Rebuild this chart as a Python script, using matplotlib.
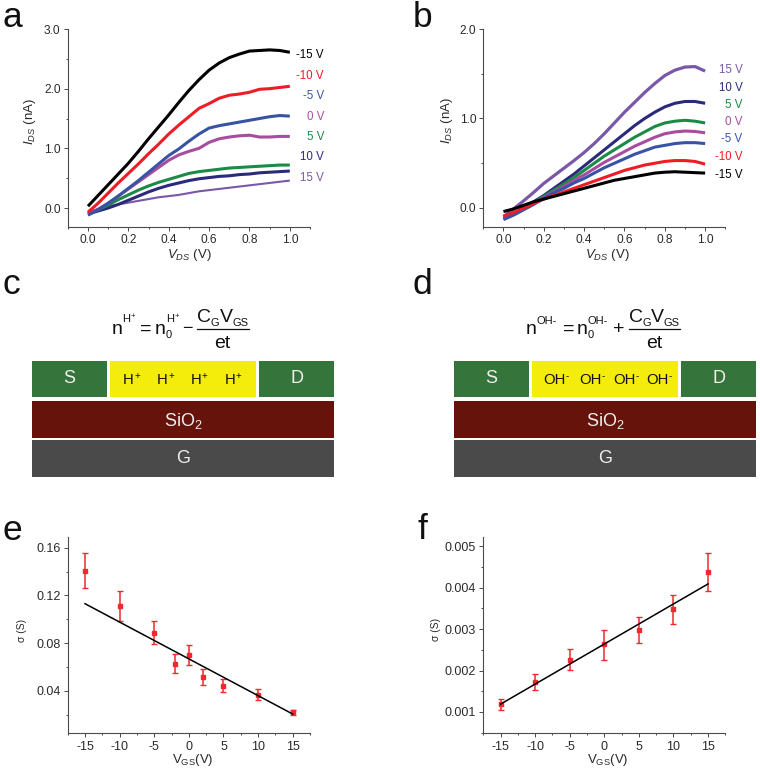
import matplotlib
matplotlib.use('Agg')
import matplotlib.pyplot as plt
from matplotlib.patches import Rectangle
from matplotlib.ticker import MultipleLocator, FormatStrFormatter

plt.rcParams['font.family'] = ['Liberation Sans', 'DejaVu Sans']
plt.rcParams['mathtext.fontset'] = 'custom'
plt.rcParams['mathtext.rm'] = 'Liberation Sans'
plt.rcParams['mathtext.it'] = 'Liberation Sans:italic'
plt.rcParams['mathtext.bf'] = 'Liberation Sans:bold'
plt.rcParams['mathtext.default'] = 'regular'
plt.rcParams['axes.unicode_minus'] = False

W, H = 760, 771
DARK = '#2a2a2a'
AXIS = '#4a4a4a'

vds = [0.0, 0.05, 0.1, 0.15, 0.2, 0.25, 0.3, 0.35, 0.4, 0.45, 0.5,
       0.55, 0.6, 0.65, 0.7, 0.75, 0.8, 0.85, 0.9, 0.95, 1.0]

# panel a, gate voltage -> I_DS (nA)
a_m15 = [0.03, 0.21, 0.39, 0.57, 0.75, 0.95, 1.16, 1.36, 1.56, 1.77, 1.97, 2.15, 2.31, 2.43, 2.52, 2.58, 2.63, 2.64, 2.65, 2.64, 2.61]
a_m10 = [-0.07, 0.08, 0.25, 0.42, 0.58, 0.74, 0.91, 1.07, 1.24, 1.39, 1.53, 1.67, 1.75, 1.84, 1.89, 1.91, 1.94, 1.99, 2.0, 2.02, 2.04]
a_m5 = [-0.12, -0.03, 0.08, 0.2, 0.33, 0.46, 0.6, 0.74, 0.88, 0.99, 1.12, 1.24, 1.34, 1.38, 1.41, 1.44, 1.47, 1.5, 1.53, 1.55, 1.54]
a_0 = [-0.1, -0.02, 0.08, 0.2, 0.32, 0.44, 0.56, 0.68, 0.8, 0.89, 0.95, 1.0, 1.1, 1.16, 1.19, 1.21, 1.22, 1.19, 1.19, 1.2, 1.2]
a_5 = [-0.1, -0.03, 0.05, 0.14, 0.22, 0.3, 0.37, 0.43, 0.48, 0.53, 0.58, 0.61, 0.63, 0.65, 0.67, 0.68, 0.69, 0.7, 0.71, 0.72, 0.72]
a_10 = [-0.1, -0.05, 0.0, 0.06, 0.13, 0.2, 0.27, 0.33, 0.38, 0.42, 0.46, 0.49, 0.51, 0.53, 0.54, 0.56, 0.57, 0.59, 0.6, 0.61, 0.62]
a_15 = [-0.07, -0.02, 0.03, 0.06, 0.09, 0.12, 0.15, 0.18, 0.2, 0.22, 0.25, 0.28, 0.3, 0.32, 0.34, 0.36, 0.38, 0.4, 0.42, 0.44, 0.46]

# panel b
b_15 = [-0.1, -0.01, 0.08, 0.175, 0.275, 0.36, 0.445, 0.53, 0.62, 0.72, 0.83, 0.95, 1.07, 1.18, 1.29, 1.39, 1.48, 1.54, 1.575, 1.58, 1.53]
b_10 = [-0.12, -0.06, 0.0, 0.07, 0.14, 0.22, 0.3, 0.38, 0.47, 0.56, 0.65, 0.74, 0.83, 0.92, 1.0, 1.07, 1.13, 1.17, 1.19, 1.19, 1.17]
b_5 = [-0.12, -0.07, -0.01, 0.06, 0.13, 0.2, 0.27, 0.34, 0.42, 0.5, 0.58, 0.65, 0.72, 0.79, 0.85, 0.91, 0.95, 0.97, 0.98, 0.97, 0.95]
b_0 = [-0.12, -0.07, -0.01, 0.05, 0.12, 0.18, 0.24, 0.31, 0.37, 0.44, 0.51, 0.57, 0.63, 0.69, 0.74, 0.79, 0.83, 0.85, 0.86, 0.855, 0.84]
b_m5 = [-0.13, -0.08, -0.02, 0.04, 0.11, 0.17, 0.22, 0.28, 0.33, 0.39, 0.45, 0.5, 0.55, 0.6, 0.64, 0.68, 0.7, 0.72, 0.73, 0.73, 0.72]
b_m10 = [-0.09, -0.05, 0.0, 0.05, 0.1, 0.14, 0.18, 0.22, 0.26, 0.3, 0.34, 0.38, 0.42, 0.45, 0.48, 0.5, 0.52, 0.53, 0.53, 0.52, 0.49]
b_m15 = [-0.04, -0.01, 0.03, 0.07, 0.1, 0.13, 0.16, 0.19, 0.22, 0.25, 0.28, 0.31, 0.33, 0.35, 0.37, 0.39, 0.4, 0.405, 0.4, 0.395, 0.39]

# panel e
e_vgs = [-15, -10, -5, -2, 0, 2, 5, 10, 15]
e_sigma = [0.1407, 0.111, 0.0886, 0.0629, 0.070, 0.0516, 0.0445, 0.0369, 0.0224]
e_high = [0.1553, 0.1234, 0.0986, 0.0707, 0.0785, 0.0581, 0.0500, 0.0414, 0.0240]
e_low = [0.1262, 0.0986, 0.0791, 0.0553, 0.0620, 0.0453, 0.0389, 0.0325, 0.0198]
e_fit_x = [-15, 15]
e_fit_y = [0.1131, 0.0207]

# panel f
f_vgs = [-15, -10, -5, 0, 5, 10, 15]
f_sigma = [0.00119, 0.00172, 0.00226, 0.00263, 0.00298, 0.00349, 0.00438]
f_high = [0.00131, 0.00192, 0.00251, 0.00299, 0.00329, 0.00383, 0.00483]
f_low = [0.00105, 0.00153, 0.00202, 0.00226, 0.00267, 0.00312, 0.00392]
f_fit_x = [-15, 15]
f_fit_y = [0.00119, 0.00409]

BLACK, RED, BLUE, MAGENTA = '#000000', '#ee1c25', '#3953a4', '#a64d9f'
GREEN, NAVY, PURPLE = '#1c8a47', '#2b2a7a', '#7a58a8'


def px_axes(fig, left, top, right, bottom):
    return fig.add_axes([left / W, 1 - bottom / H, (right - left) / W, (bottom - top) / H])


def style_axes(ax, size):
    ax.patch.set_alpha(0)
    for s in ['top', 'right']:
        ax.spines[s].set_visible(False)
    for s in ['left', 'bottom']:
        ax.spines[s].set_color(AXIS)
        ax.spines[s].set_linewidth(0.8)
    ax.tick_params(which='major', length=3, width=0.7, color=AXIS, labelsize=size, labelcolor=DARK, pad=2.2)
    ax.tick_params(which='minor', length=1.7, width=0.7, color=AXIS)


fig = plt.figure(figsize=(W / 100, H / 100), dpi=100)

# overlay in pixel coordinates for the schematics and free labels
bg = fig.add_axes([0, 0, 1, 1])
bg.set_xlim(0, W)
bg.set_ylim(H, 0)
bg.axis('off')


def draw_iv(ax, curves, ymin, ymax):
    for y, col, lw in curves:
        ax.plot(vds, y, color=col, lw=lw, solid_capstyle='butt', solid_joinstyle='round')
    ax.set_xlim(-0.1, 1.1)
    ax.set_ylim(ymin, ymax)
    ax.set_xticks([0.0, 0.2, 0.4, 0.6, 0.8, 1.0])
    ax.xaxis.set_minor_locator(MultipleLocator(0.1))
    ax.yaxis.set_major_locator(MultipleLocator(1.0))
    ax.yaxis.set_minor_locator(MultipleLocator(0.5))
    ax.xaxis.set_major_formatter(FormatStrFormatter('%.1f'))
    ax.yaxis.set_major_formatter(FormatStrFormatter('%.1f'))
    style_axes(ax, 8.6)


ax_a = px_axes(fig, 67.8, 29, 310, 226.7)
draw_iv(ax_a, [(a_15, PURPLE, 1.5), (a_10, NAVY, 2.2), (a_5, GREEN, 2.2), (a_0, MAGENTA, 2.2),
               (a_m5, BLUE, 2.2), (a_m10, RED, 2.2), (a_m15, BLACK, 2.2)], -0.313, 3.0)

ax_b = px_axes(fig, 483.3, 29, 725.3, 226.7)
draw_iv(ax_b, [(b_15, PURPLE, 2.3), (b_10, NAVY, 2.2), (b_5, GREEN, 2.2), (b_0, MAGENTA, 2.2),
               (b_m5, BLUE, 2.2), (b_m10, RED, 2.2), (b_m15, BLACK, 2.2)], -0.209, 2.0)


def draw_sigma(ax, vgs, sigma, low, high, fit_x, fit_y, ylim, major, minor, fmt):
    yerr = [[s - l for s, l in zip(sigma, low)], [h - s for s, h in zip(sigma, high)]]
    ax.errorbar(vgs, sigma, yerr=yerr, fmt='s', color='#ee2a2e', ms=3.2, elinewidth=1.1,
                capsize=2, capthick=1.0, zorder=2)
    ax.plot(fit_x, fit_y, color='black', lw=1.1, zorder=3)
    ax.set_xlim(-17.5, 17.5)
    ax.set_ylim(*ylim)
    ax.set_xticks([-15, -10, -5, 0, 5, 10, 15])
    ax.xaxis.set_minor_locator(MultipleLocator(2.5))
    ax.yaxis.set_major_locator(MultipleLocator(major))
    ax.yaxis.set_minor_locator(MultipleLocator(minor))
    ax.yaxis.set_major_formatter(FormatStrFormatter(fmt))
    style_axes(ax, 9)


ax_e = px_axes(fig, 67.7, 536.7, 310, 733.3)
draw_sigma(ax_e, e_vgs, e_sigma, e_low, e_high, e_fit_x, e_fit_y, (0.00457, 0.1692), 0.04, 0.02, '%.2f')

ax_f = px_axes(fig, 483.3, 536.7, 725.3, 733.3)
draw_sigma(ax_f, f_vgs, f_sigma, f_low, f_high, f_fit_x, f_fit_y, (0.000486, 0.00523), 0.001, 0.0005, '%.3f')

# panel letters
for letter, x, y in [('a', 3, 27), ('b', 413, 27), ('c', 3, 294), ('d', 413, 294), ('e', 3, 540), ('f', 418, 539)]:
    bg.text(x, y, letter, fontsize=25.5, color='#111111', ha='left', va='baseline')

# curve labels
a_labels = ['-15 V', '-10 V', '-5 V', '0 V', '5 V', '10 V', '15 V']
a_colors = [BLACK, RED, BLUE, MAGENTA, GREEN, NAVY, PURPLE]
a_label_y = [55, 75.7, 96.3, 116.7, 137, 157.3, 178]
for t, c, y in zip(a_labels, a_colors, a_label_y):
    bg.text(324, y, t, color=c, fontsize=8.3, ha='right', va='center')

b_labels = ['15 V', '10 V', '5 V', '0 V', '-5 V', '-10 V', '-15 V']
b_colors = [PURPLE, NAVY, GREEN, MAGENTA, BLUE, RED, BLACK]
b_label_y = [70.3, 87.7, 105, 122.3, 139.3, 156.7, 174.7]
for t, c, y in zip(b_labels, b_colors, b_label_y):
    bg.text(742.5, y, t, color=c, fontsize=8.3, ha='right', va='center')

# axis titles
for x in [189, 607]:
    bg.text(x, 255, '$\\mathit{V_{DS}}$ (V)', fontsize=9.5, color=DARK, ha='center', va='center')
for x, y in [(30, 122), (447, 121)]:
    bg.text(x, y, '$\\mathit{I_{DS}}$ (nA)', fontsize=9.5, color=DARK, rotation=90, ha='center', va='center')
for x in [193, 608]:
    bg.text(x, 760, '$V_{GS}$(V)', fontsize=9.5, color=DARK, ha='center', va='center')
for x, y in [(22, 630), (436, 629)]:
    bg.text(x, y, '\u03c3 (S)', fontsize=7.5, color=DARK, rotation=90, ha='center', va='center')


def device(x0):
    green = '#35743a'
    rects = [(x0, 360.7, 75, 36.6, green), (x0 + 77.7, 360.7, 146, 36.6, '#f4ec0a'),
             (x0 + 227, 360.7, 75, 36.6, green), (x0, 401.3, 302, 37, '#66130c'),
             (x0, 440.3, 302, 36.7, '#4a4a4a')]
    for x, y, w, h, col in rects:
        bg.add_patch(Rectangle((x, y), w, h, facecolor=col, edgecolor='none'))
    for t, x, y in [('S', x0 + 37.5, 378.5), ('D', x0 + 264.5, 378.5), ('SiO$_{2}$', x0 + 151, 421), ('G', x0 + 151, 458.5)]:
        bg.text(x, y, t, color='#f0f0f0', fontsize=13, ha='center', va='center')


def ions(name, sign, right_edges):
    for x in right_edges:
        bg.text(x, 384, name, color='#111111', fontsize=10.7, ha='right', va='baseline')
        bg.text(x + 0.3, 379.5, sign, color='#111111', fontsize=7, ha='left', va='baseline')


device(32)
device(454)
ions('H', '+', [134, 168, 201.5, 235])
ions('OH', '-', [565.7, 601.7, 635.3, 668.7])


def eq_text(x, y, t, size, ha='left'):
    bg.text(x, y, t, fontsize=size, color='#111111', ha=ha, va='baseline')


# equation c
eq_text(111.4, 333.5, 'n', 14)
eq_text(122.5, 323.5, 'H$^{+}$', 8)
eq_text(140.3, 333.5, '=', 14)
eq_text(154.4, 333.5, 'n', 14)
eq_text(165.5, 323.5, 'H$^{+}$', 8)
eq_text(165.5, 337.7, '0', 8)
eq_text(182.6, 333.5, '\u2212', 13)
eq_text(196.8, 321.7, 'C', 14)
eq_text(210.8, 326, 'G', 8)
eq_text(219.6, 321.7, 'V', 14)
eq_text(232.6, 326, 'GS', 8)
bg.plot([196.7, 249], [328.7, 328.7], color='#111111', lw=0.9)
eq_text(222.5, 347.7, 'et', 14, ha='center')

# equation d
eq_text(525.4, 333.5, 'n', 14)
eq_text(536.5, 323.5, 'OH-', 8)
eq_text(563, 333.5, '=', 14)
eq_text(577, 333.5, 'n', 14)
eq_text(587.8, 323.5, 'OH-', 8)
eq_text(587.8, 337.7, '0', 8)
eq_text(613.5, 333.5, '+', 14)
eq_text(628.5, 321.7, 'C', 14)
eq_text(642.5, 326, 'G', 8)
eq_text(651.2, 321.7, 'V', 14)
eq_text(664, 326, 'GS', 8)
bg.plot([628.5, 680], [328.7, 328.7], color='#111111', lw=0.9)
eq_text(654, 347.7, 'et', 14, ha='center')

fig.savefig('out.png', dpi=100)
